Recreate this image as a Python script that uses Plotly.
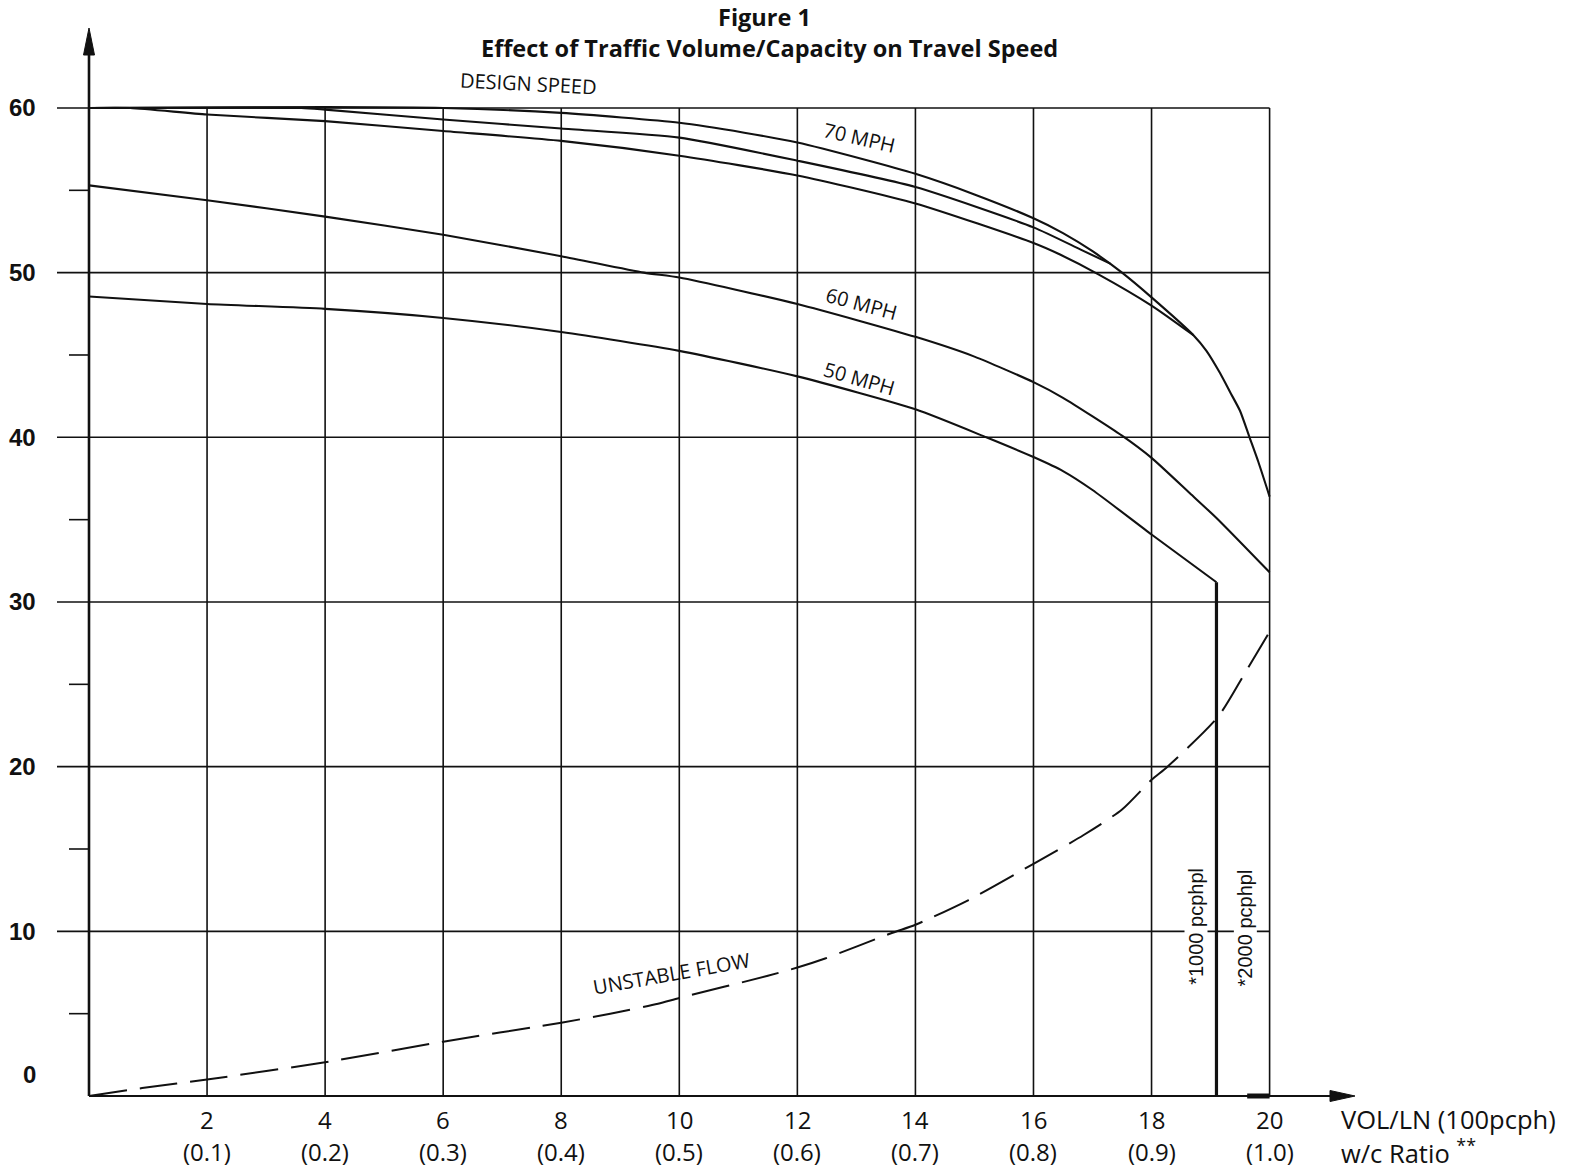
import plotly.graph_objects as go

# ---------------- data ----------------
x_ticks = [2, 4, 6, 8, 10, 12, 14, 16, 18, 20]
wc_labels = ["(0.1)", "(0.2)", "(0.3)", "(0.4)", "(0.5)", "(0.6)", "(0.7)", "(0.8)", "(0.9)", "(1.0)"]
y_major = [0, 10, 20, 30, 40, 50, 60]
y_minor = [5, 15, 25, 35, 45, 55]

# upper three design-speed curves (merge near v/c 0.93)
top_a_x = [0, 4, 6, 8, 10, 11.1, 12, 13.1, 14, 15, 16, 16.5, 17.0, 17.5, 18, 18.71, 18.93, 19.16, 19.33, 19.5, 19.66, 19.81, 20]
top_a_y = [60, 60.05, 60.0, 59.7, 59.1, 58.5, 57.9, 56.9, 56.0, 54.75, 53.3, 52.4, 51.3, 50.0, 48.5, 46.2, 45.25, 43.9, 42.75, 41.6, 40.0, 38.5, 36.4]
top_b_x = [0, 3.6, 4, 6, 8, 10, 12, 14, 16, 16.8, 17.3]
top_b_y = [60, 60.0, 59.9, 59.3, 58.75, 58.2, 56.8, 55.2, 52.75, 51.4, 50.55]
top_c_x = [0, 0.7, 2, 4, 6, 8, 10, 12, 14, 16, 16.45, 17.1, 18, 18.71]
top_c_y = [60, 60.0, 59.6, 59.2, 58.6, 58.0, 57.1, 55.9, 54.2, 51.8, 51.1, 49.9, 48.0, 46.2]

mph60_x = [0, 2, 4, 6, 8, 9.4, 10, 12, 14, 15, 16, 16.5, 17.5, 18, 18.65, 19.1, 20]
mph60_y = [55.3, 54.4, 53.4, 52.3, 51.0, 50.0, 49.7, 48.1, 46.1, 44.9, 43.35, 42.4, 40.1, 38.75, 36.6, 35.1, 31.8]

mph50_x = [0, 2, 4, 6, 8, 10, 12, 14, 15.2, 16, 16.5, 17.0, 18, 19.1]
mph50_y = [48.55, 48.1, 47.8, 47.25, 46.4, 45.25, 43.7, 41.7, 40.0, 38.8, 37.95, 36.8, 34.1, 31.2]

cap1000_x = [19.1, 19.1]
cap1000_y = [31.2, 0]

unstable_x = [0, 0.9, 2, 4, 6, 8, 8.83, 9.64, 10, 11.5, 12, 12.47, 13.6, 14, 14.9, 16, 16.85, 17.5, 18, 18.27, 19.12, 19.56, 20]
unstable_y = [0, 0.48, 1.0, 2.05, 3.3, 4.45, 5.0, 5.6, 5.95, 7.3, 7.8, 8.35, 9.9, 10.4, 11.9, 14.1, 15.85, 17.4, 19.2, 20.0, 23.0, 25.55, 28.2]

cap2000_bar_x = [19.62, 20]

# ---------------- geometry / style ----------------
W, H = 1585, 1171
X0_PX, PX_PER_X = 89.0, 59.03
Y0_PX, PX_PER_Y = 1096.0, 16.467
x_range = [-X0_PX / PX_PER_X, (W - X0_PX) / PX_PER_X]
y_range = [-(H - Y0_PX) / PX_PER_Y, Y0_PX / PX_PER_Y]

X_MAX = x_ticks[-1]
Y_MAX = y_major[-1]
MAJOR_TICK = 32 / PX_PER_X
MINOR_TICK = 20 / PX_PER_X
INK = "#111111"
OPTIMA = "Open Sans"

fig = go.Figure()

# grid + major ticks (extending left of y axis)
gx, gy = [], []
for v in y_major[1:]:
    gx += [-MAJOR_TICK, X_MAX, None]
    gy += [v, v, None]
for v in x_ticks:
    gx += [v, v, None]
    gy += [0, Y_MAX, None]
fig.add_trace(go.Scatter(x=gx, y=gy, mode="lines", line=dict(color=INK, width=1.6), hoverinfo="skip"))

# minor ticks
mx, my = [], []
for v in y_minor:
    mx += [-MINOR_TICK, 0, None]
    my += [v, v, None]
fig.add_trace(go.Scatter(x=mx, y=my, mode="lines", line=dict(color=INK, width=1.6), hoverinfo="skip"))

# axes with arrows
y_tip = (Y0_PX - 28) / PX_PER_Y
y_head = 27 / PX_PER_Y
y_halfw = 5.5 / PX_PER_X
x_tip = (1355 - X0_PX) / PX_PER_X
x_head = 25 / PX_PER_X
x_halfh = 5.5 / PX_PER_Y
fig.add_trace(go.Scatter(x=[0, 0], y=[0, y_tip - y_head], mode="lines",
                         line=dict(color=INK, width=2.6), hoverinfo="skip"))
fig.add_trace(go.Scatter(x=[0, x_tip - x_head], y=[0, 0], mode="lines",
                         line=dict(color=INK, width=2.2), hoverinfo="skip"))
fig.add_trace(go.Scatter(x=[0, -y_halfw, y_halfw, 0], y=[y_tip, y_tip - y_head, y_tip - y_head, y_tip],
                         mode="lines", fill="toself", fillcolor=INK, line=dict(color=INK, width=1), hoverinfo="skip"))
fig.add_trace(go.Scatter(x=[x_tip, x_tip - x_head, x_tip - x_head, x_tip], y=[0, x_halfh, -x_halfh, 0],
                         mode="lines", fill="toself", fillcolor=INK, line=dict(color=INK, width=1), hoverinfo="skip"))
fig.add_trace(go.Scatter(x=cap2000_bar_x, y=[0, 0], mode="lines",
                         line=dict(color=INK, width=5), hoverinfo="skip"))

# speed curves
curve_style = dict(color=INK, width=2.1, shape="spline", smoothing=0.6)
for cx, cy in [(top_c_x, top_c_y), (top_b_x, top_b_y), (top_a_x, top_a_y),
               (mph60_x, mph60_y), (mph50_x, mph50_y)]:
    fig.add_trace(go.Scatter(x=cx, y=cy, mode="lines", line=curve_style, hoverinfo="skip"))

fig.add_trace(go.Scatter(x=cap1000_x, y=cap1000_y, mode="lines",
                         line=dict(color=INK, width=3.2), hoverinfo="skip"))

fig.add_trace(go.Scatter(x=unstable_x, y=unstable_y, mode="lines",
                         line=dict(color=INK, width=2, dash="38px,13px", shape="spline", smoothing=0.7),
                         hoverinfo="skip"))

ann = []
# y tick labels
for v in y_major:
    ann.append(dict(x=38 / W, xref="paper", y=v, yref="y", text=str(v), showarrow=False,
                    xanchor="right", yanchor="middle", yshift=22 if v == 0 else 0,
                    font=dict(family="Liberation Sans", size=24, color=INK, weight="bold")))
# x tick labels
for v, lab in zip(x_ticks, wc_labels):
    ann.append(dict(x=v, xref="x", y=1 - 1119 / H, yref="paper", text=str(v), showarrow=False,
                    xanchor="center", yanchor="middle", font=dict(family=OPTIMA, size=24, color=INK)))
    ann.append(dict(x=v, xref="x", y=1 - 1151 / H, yref="paper", text=lab, showarrow=False,
                    xanchor="center", yanchor="middle", font=dict(family=OPTIMA, size=24, color=INK)))
ann.append(dict(x=1339 / W, xref="paper", y=1 - 1119 / H, yref="paper", text="VOL/LN (100pcph)",
                showarrow=False, xanchor="left", yanchor="middle", font=dict(family=OPTIMA, size=25.5, color=INK)))
ann.append(dict(x=1339 / W, xref="paper", y=1 - 1151 / H, yref="paper", text="w/c Ratio <sup>**</sup>",
                showarrow=False, xanchor="left", yanchor="middle", font=dict(family=OPTIMA, size=25.5, color=INK)))

# titles
ann.append(dict(x=764 / W, xref="paper", y=1 - 17 / H, yref="paper", text="Figure 1", showarrow=False,
                xanchor="center", yanchor="middle", font=dict(family=OPTIMA, size=23.5, color=INK, weight="bold")))
ann.append(dict(x=769 / W, xref="paper", y=1 - 47.5 / H, yref="paper",
                text="Effect of Traffic Volume/Capacity on Travel Speed", showarrow=False,
                xanchor="center", yanchor="middle", font=dict(family=OPTIMA, size=23.5, color=INK, weight="bold")))

# curve labels
lab_font = dict(family=OPTIMA, size=20, color=INK)
for txt, lx, ly, ang in [("DESIGN SPEED", 7.45, 61.5, 3), ("70 MPH", 13.05, 58.2, 13),
                         ("60 MPH", 13.08, 48.1, 15), ("50 MPH", 13.05, 43.6, 16),
                         ("UNSTABLE FLOW", 9.87, 7.45, -10)]:
    ann.append(dict(x=lx, y=ly, xref="x", yref="y", text=txt, showarrow=False, textangle=ang,
                    xanchor="center", yanchor="middle", font=lab_font))
for txt, lx, ly in [("*1000 pcphpl", 18.76, 10.3), ("*2000 pcphpl", 19.59, 10.2)]:
    ann.append(dict(x=lx, y=ly, xref="x", yref="y", text=txt, showarrow=False, textangle=-90,
                    xanchor="center", yanchor="middle", bgcolor="white", borderpad=0,
                    font=dict(family="Liberation Sans", size=20, color=INK)))

fig.update_layout(
    width=W, height=H, autosize=False,
    margin=dict(l=0, r=0, t=0, b=0, pad=0),
    paper_bgcolor="white", plot_bgcolor="white", showlegend=False,
    xaxis=dict(range=x_range, visible=False, fixedrange=True),
    yaxis=dict(range=y_range, visible=False, fixedrange=True),
    annotations=ann,
)
fig.write_html("out.html")
